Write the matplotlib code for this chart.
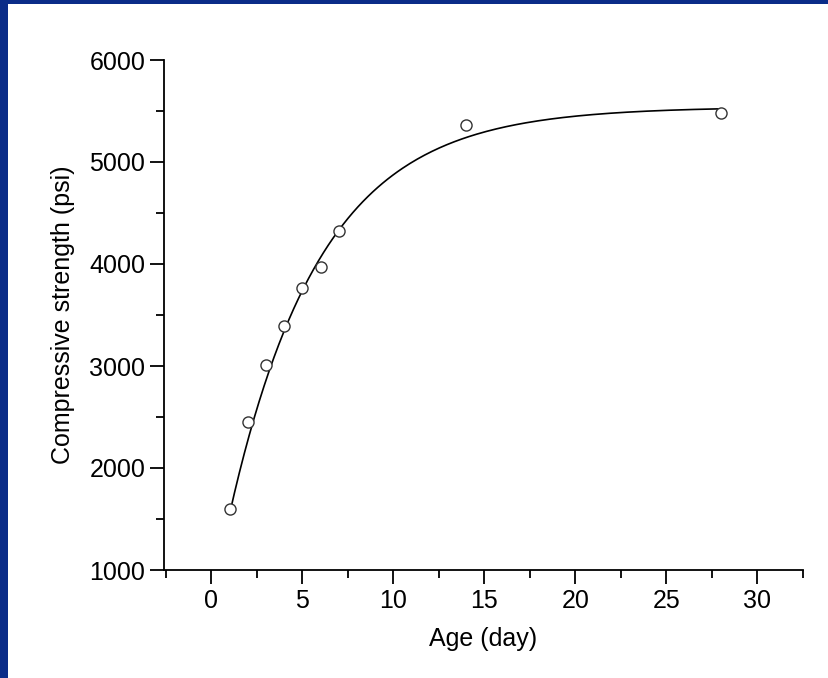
import numpy as np
import matplotlib
matplotlib.use('Agg')
import matplotlib.pyplot as plt
from matplotlib.ticker import MultipleLocator
from matplotlib.patches import Rectangle

age = [1, 2, 3, 4, 5, 6, 7, 14, 28]
strength = [1600, 2450, 3010, 3390, 3760, 3970, 4320, 5360, 5480]

# exponential fit y = a - b*exp(-x/t)
fit_a, fit_b, fit_t = 5540, 4873, 5.02

plt.rcParams['font.family'] = ['Liberation Sans', 'DejaVu Sans']
fig = plt.figure(figsize=(8.29, 6.78), dpi=100)
fig.patch.set_facecolor('white')
fig.patches.append(Rectangle((0, 0), 1, 1, transform=fig.transFigure, facecolor='#0a2c88', zorder=-2))
fig.patches.append(Rectangle((8/829, 0), 1, 1 - 4/678, transform=fig.transFigure, facecolor='white', zorder=-1))

ax = fig.add_axes([164/829, 1 - 570/678, (803-164)/829, (570-60)/678])
ax.set_facecolor('none')
xs = np.linspace(1, 28, 200)
ax.plot(xs, fit_a - fit_b*np.exp(-xs/fit_t), color='black', lw=1.2)
ax.plot(age, strength, 'o', mfc='white', mec='#333333', ms=8, mew=1.0)

ax.set_xlim(-2.6, 32.5)
ax.set_ylim(1000, 6000)
ax.xaxis.set_major_locator(MultipleLocator(5))
ax.xaxis.set_minor_locator(MultipleLocator(2.5))
ax.yaxis.set_major_locator(MultipleLocator(1000))
ax.yaxis.set_minor_locator(MultipleLocator(500))
for s in ['top', 'right']:
    ax.spines[s].set_visible(False)
for s in ['left', 'bottom']:
    ax.spines[s].set_linewidth(1.3)
ax.tick_params(which='major', length=10, width=1.3, labelsize=18, direction='out')
ax.tick_params(which='minor', length=6, width=1.3, direction='out')
ax.set_xlabel('Age (day)', fontsize=18, labelpad=10)
ax.set_ylabel('Compressive strength (psi)', fontsize=18, labelpad=10)

fig.savefig('out.png', dpi=100)
